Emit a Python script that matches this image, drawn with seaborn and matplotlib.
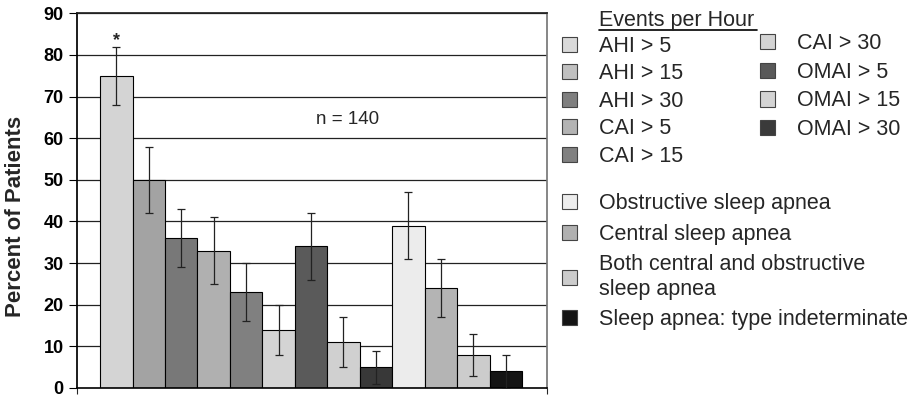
import numpy as np
import pandas as pd
import matplotlib
matplotlib.use("Agg")
import matplotlib.pyplot as plt
import matplotlib.patches as mpatches
import seaborn as sns

# measures, in the order the bars are drawn
groups = ["AHI > 5", "AHI > 15", "AHI > 30", "CAI > 5", "CAI > 15", "CAI > 30",
          "OMAI > 5", "OMAI > 15", "OMAI > 30",
          "Obstructive sleep apnea", "Central sleep apnea",
          "Both central and obstructive\nsleep apnea", "Sleep apnea: type indeterminate"]
percent = [75, 50, 36, 33, 23, 14, 34, 11, 5, 39, 24, 8, 4]
ci = [7, 8, 7, 8, 7, 6, 8, 6, 4, 8, 7, 5, 4]
bar_colors = ["#d4d4d4", "#a3a3a3", "#787878", "#b0b0b0", "#808080", "#d4d4d4",
              "#5a5a5a", "#d0d0d0", "#383838", "#ececec", "#b4b4b4", "#cccccc", "#141414"]
legend_colors = ["#d9d9d9", "#c0c0c0", "#7f7f7f", "#b3b3b3", "#808080", "#d4d4d4",
                 "#595959", "#d4d4d4", "#3a3a3a", "#ececec", "#b0b0b0", "#cccccc", "#141414"]
yticks = [0, 10, 20, 30, 40, 50, 60, 70, 80, 90]

sns.set_theme(style="white")
plt.rcParams['font.family'] = ['Liberation Sans', 'DejaVu Sans']

df = pd.DataFrame({"group": groups, "pct": percent})

fig = plt.figure(figsize=(9.22, 3.96), dpi=100)
ax = fig.add_axes([77 / 922, 8 / 396, 470 / 922, 374.7 / 396])

for y in yticks[1:]:
    ax.axhline(y, color="#222222", lw=0.9, zorder=0)

sns.barplot(data=df, x="group", y="pct", hue="group", order=groups, hue_order=groups,
            palette=bar_colors, width=1, edgecolor="black", linewidth=0.8,
            errorbar=None, legend=False, ax=ax, zorder=2)
xpos = np.arange(len(groups))
ax.errorbar(xpos, percent, yerr=ci, fmt="none", ecolor="#222222", elinewidth=0.9,
            capsize=3.2, capthick=0.9, zorder=3)

ax.set_xlim(-1.21, 13.27)
ax.set_ylim(0, 90)
ax.set_yticks(yticks)
ax.set_yticklabels([str(t) for t in yticks], fontsize=13, fontweight="bold")
ax.set_xticks([-1.21, 13.27])
ax.set_xticklabels([])
ax.tick_params(axis="y", direction="out", length=5.5, width=0.8, pad=4, left=True, colors="black")
ax.tick_params(axis="x", direction="out", length=4, width=0.8, bottom=True)
ax.set_xlabel("")
ax.set_ylabel("Percent of Patients", fontsize=16, fontweight="bold")
ax.yaxis.set_label_coords(-0.108, 0.458)

ax.spines["left"].set_color("black")
ax.spines["bottom"].set_color("black")
ax.spines["bottom"].set_linewidth(1.2)
ax.spines["right"].set_color("#777777")
ax.spines["top"].set_color("#222222")
for s in ax.spines.values():
    s.set_visible(True)

ax.text(0, 83.5, "*", ha="center", va="center", fontsize=13, fontweight="bold")
ax.text(7.13, 64.4, "n = 140", ha="center", va="center", fontsize=13.5)

# legends
def handles(idx):
    return [mpatches.Patch(facecolor=legend_colors[i], edgecolor="#444444", lw=0.8,
                           label=groups[i]) for i in idx]

common = dict(frameon=False, fontsize=15.5, handlelength=0.7, handleheight=0.7,
              handletextpad=1.0, borderpad=0, borderaxespad=0, loc="upper left")
leg1 = fig.legend(handles=handles(range(0, 5)), bbox_to_anchor=(562 / 922, 1 - 36 / 396),
                  labelspacing=0.3, **common)
leg2 = fig.legend(handles=handles(range(5, 9)), bbox_to_anchor=(760 / 922, 1 - 33 / 396),
                  labelspacing=0.36, **common)
leg3 = fig.legend(handles=handles(range(9, 13)), bbox_to_anchor=(562 / 922, 1 - 193 / 396),
                  labelspacing=0.45, **common)

fig.text(599 / 922, 1 - 26 / 396, "Events per Hour", fontsize=15.5, ha="left", va="baseline")
fig.add_artist(plt.Line2D([599 / 922, 757 / 922], [1 - 30 / 396, 1 - 30 / 396],
                          color="black", lw=1.2))

fig.savefig("out.png", dpi=100)
